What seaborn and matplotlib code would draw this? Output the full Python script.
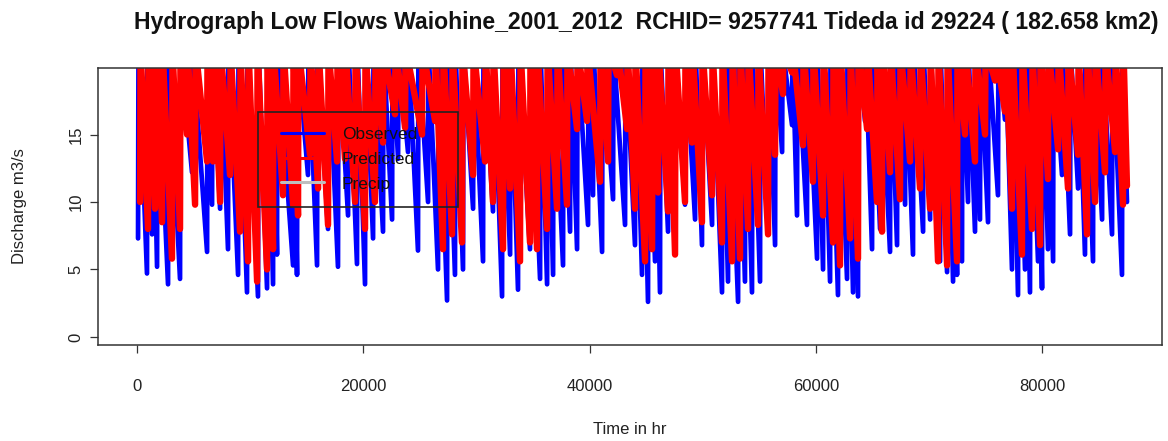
import numpy as np
import pandas as pd
import matplotlib
matplotlib.use("Agg")
import matplotlib.pyplot as plt
from matplotlib.lines import Line2D
from matplotlib.patches import Rectangle
import seaborn as sns

# Low-flow troughs of each hydrograph event (hour since 2001-01-01, flow in m3/s)
obs_trough_hr = [
    90, 880, 1330, 1770, 2740, 3800, 4860, 6190, 6630, 7340, 8040, 8930,
    9720, 10690, 11490, 12020, 12370, 13790, 14140, 15110, 15910, 16880,
    17760, 18650, 19440, 20150, 20860, 21740, 22540, 23070, 23950, 24830,
    25720, 26600, 27400, 28100, 28810, 29700, 30580, 31460, 32260, 32970,
    33670, 34730, 35620, 36240, 36770, 37650, 38270, 38890, 39860, 40300,
    41100, 42070, 43130, 44010, 44630, 45160, 45780, 46220, 46930, 47550,
    48430, 49320, 49930, 50820, 51700, 52230, 53120, 53730, 54350, 55060,
    55770, 56390, 57010, 57890, 58330, 59210, 60100, 60630, 61250, 61950,
    62750, 63280, 63720, 64340, 64960, 65670, 66550, 67170, 67880, 68580,
    69470, 70090, 70970, 71590, 72120, 72470, 72910, 73440, 74060, 74500,
    75210, 76090, 76710, 77330, 77860, 78480, 78920, 79630, 79980, 80510,
    80960, 81750, 82460, 83170, 83780, 84490, 85290, 86170, 87050, 87490,
]
obs_trough_q = [
    7.3, 4.7, 7.6, 5.2, 3.9, 4.3, 12.2, 6.3, 9.8, 9.5, 6.5, 4.6,
    3.3, 3.0, 3.6, 3.9, 6.1, 5.3, 4.6, 12.0, 5.3, 8.0,
    5.2, 9.0, 5.4, 3.9, 7.3, 7.8, 8.7, 13.2, 13.7, 6.4,
    10.0, 5.0, 2.7, 4.6, 5.0, 9.5, 5.6, 9.3, 3.0, 6.1,
    3.5, 6.5, 4.3, 3.9, 4.6, 5.3, 7.8, 6.5, 8.3, 10.5,
    6.3, 10.2, 8.3, 6.8, 4.6, 2.6, 5.6, 3.3, 7.8, 6.1,
    9.8, 8.7, 6.8, 8.3, 3.3, 4.1, 2.6, 4.1, 3.3, 4.1,
    7.6, 6.8, 13.7, 15.7, 9.0, 8.3, 5.8, 5.0, 4.1, 3.1,
    4.3, 3.3, 3.0, 16.0, 6.5, 8.0, 6.3, 6.8, 9.8, 6.1,
    7.8, 8.7, 5.6, 4.8, 4.1, 4.6, 5.6, 10.0, 7.8, 8.7,
    8.5, 10.5, 16.1, 5.0, 3.1, 5.0, 3.3, 5.6, 3.6, 6.5,
    5.6, 12.0, 7.6, 11.0, 6.1, 5.6, 8.7, 7.6, 4.6, 10.0,
]

pred_trough_hr = [
    270, 970, 1590, 2210, 3090, 3800, 4420, 5130, 6190, 6720, 7340, 8220,
    9100, 9810, 10610, 11490, 12020, 12900, 13790, 14230, 15290, 16000,
    16880, 17680, 18380, 19270, 20150, 21030, 21740, 22800, 23690, 25190,
    26340, 27040, 27840, 28720, 29700, 30760, 31460, 32350, 32970, 33850,
    34730, 35350, 36240, 37120, 38000, 38890, 39770, 40920, 41630, 42420,
    43310, 44010, 44900, 45520, 46050, 46930, 47550, 48430, 49050, 49930,
    50820, 51700, 52590, 53290, 54000, 54880, 55770, 56390, 57090, 57890,
    58860, 59740, 60630, 61510, 62130, 63020, 63720, 64520, 65400, 65840,
    66550, 67430, 68320, 69200, 70090, 70790, 71590, 72470, 73180, 74060,
    74950, 75830, 76710, 77330, 78210, 79100, 79810, 80510, 81400, 82280,
    83170, 83960, 84670, 85550, 86440, 87140, 87490,
]
pred_trough_q = [
    10.0, 8.0, 9.5, 8.5, 5.8, 8.0, 15.0, 9.8, 13.0, 13.0, 10.0, 12.0,
    7.8, 5.6, 4.1, 5.0, 6.5, 10.5, 9.8, 9.0, 13.5, 11.0,
    8.3, 13.0, 13.2, 10.0, 8.0, 10.0, 14.4, 16.5, 15.5, 15.0,
    16.0, 6.5, 7.6, 7.0, 12.0, 13.0, 10.0, 6.5, 11.0, 5.6,
    7.0, 6.5, 8.0, 9.5, 9.8, 15.4, 16.0, 11.5, 13.0, 19.4,
    15.4, 9.5, 5.6, 6.5, 10.7, 9.3, 6.1, 10.0, 14.4, 8.5,
    10.5, 7.0, 5.6, 5.8, 8.0, 8.3, 7.6, 13.5, 18.0, 19.6,
    14.2, 11.5, 9.0, 7.0, 5.3, 7.3, 5.8, 15.4, 10.0, 7.8,
    12.2, 10.2, 13.0, 11.0, 9.5, 5.6, 5.3, 5.6, 15.0, 13.0,
    15.0, 19.0, 16.7, 9.5, 6.1, 8.0, 6.8, 11.7, 13.9, 11.0,
    13.5, 7.6, 10.0, 12.2, 13.7, 9.8, 11.2,
]

# Flood peaks between troughs run off the top of the low-flow axis
flood_peak_q = 21.5
rise_hours = 40

x_ticks = [0, 20000, 40000, 60000, 80000]
y_ticks = [0, 5, 10, 15]
legend_labels = ["Observed", "Predicted", "Precip"]
series_colors = ["#0000ff", "#ff0000", "#bebebe"]

title = ("Hydrograph Low Flows Waiohine_2001_2012  RCHID= 9257741 "
         "Tideda id 29224 ( 182.658 km2)")


def event_vertices(hours, flows, name):
    """Trough -> rapid rise to the flood peak -> recession to the next trough."""
    rows = []
    for h, q in zip(hours, flows):
        rows.append((h, q))
        rows.append((h + rise_hours, flood_peak_q))
    df = pd.DataFrame(rows[:-1], columns=["hour", "flow"])
    df["series"] = name
    return df


obs = event_vertices(obs_trough_hr, obs_trough_q, "Observed")
pred = event_vertices(pred_trough_hr, pred_trough_q, "Predicted")

sns.set_theme(style="ticks")
plt.rcParams["font.family"] = ["Liberation Sans", "DejaVu Sans"]

fig = plt.figure(figsize=(11.68, 4.41), dpi=100)
ax = fig.add_axes([0.0839, 0.2177, 0.9110, 0.6281])

sns.lineplot(data=obs, x="hour", y="flow", sort=False, estimator=None,
             color=series_colors[0], linewidth=3.4, ax=ax)
sns.lineplot(data=pred, x="hour", y="flow", sort=False, estimator=None,
             color=series_colors[1], linewidth=4.6, ax=ax)

ax.set_xlim(-3450, 90590)
ax.set_ylim(-0.6, 19.93)
ax.set_xticks(x_ticks)
ax.set_xticklabels([str(v) for v in x_ticks])
ax.set_yticks(y_ticks)
ax.set_yticklabels([str(v) for v in y_ticks], rotation=90, va="center")
ax.tick_params(axis="both", direction="out", length=6, width=0.9,
               color="#333333", labelsize=12, labelcolor="#222222")
ax.tick_params(axis="y", pad=4.5)
ax.tick_params(axis="x", pad=18.5)
for sp in ax.spines.values():
    sp.set_visible(True)
    sp.set_color("#333333")
    sp.set_linewidth(1.1)

ax.set_xlabel("Time in hr", fontsize=12, color="#222222", labelpad=20.5)
ax.set_ylabel("Discharge m3/s", fontsize=12, color="#222222", labelpad=30)
fig.suptitle(title, fontsize=16.6, fontweight="bold", color="#111111",
             x=0.553, y=0.975)

handles = [Line2D([], [], color=c, linewidth=2.2) for c in series_colors]
ax.legend(handles, legend_labels, loc="upper left",
          bbox_to_anchor=(0.172, 0.787), frameon=False, fontsize=12.5,
          handlelength=2.5, handletextpad=1.0, labelspacing=0.55,
          borderpad=0, borderaxespad=0, labelcolor="#111111")
ax.add_patch(Rectangle((0.1504, 0.4964), 0.188, 0.3430, transform=ax.transAxes,
                       fill=False, edgecolor="#222222", linewidth=1.2,
                       zorder=5))

fig.savefig("out.png", dpi=100)
